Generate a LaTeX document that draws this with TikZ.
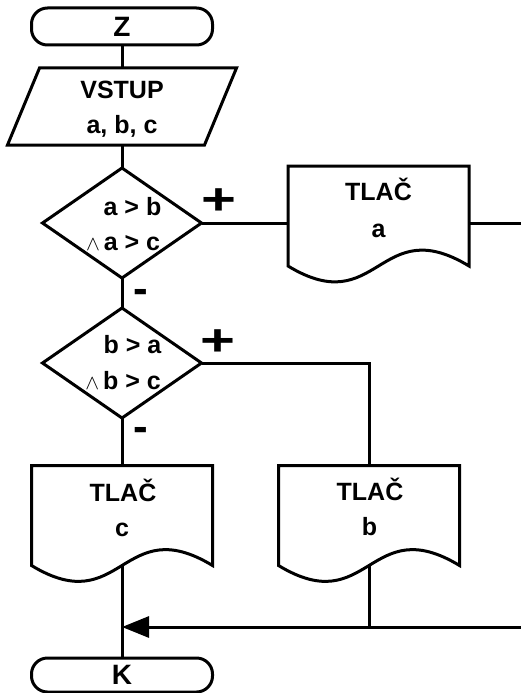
\documentclass[tikz,border=0pt]{standalone}
\usepackage{fontspec}
\usepackage{graphicx}
\setmainfont{Liberation Sans}
\usetikzlibrary{arrows.meta,shapes.geometric,calc}
\tikzset{
  ln/.style={line width=3pt},
  diam/.style={diamond,draw,ln,minimum width=159pt,minimum height=110pt,inner sep=0pt,outer sep=0pt},
  term/.style={rectangle,draw,ln,rounded corners=16pt,minimum width=181pt,inner sep=0pt,outer sep=0pt,font=\fontsize{28}{28}\selectfont\bfseries},
  docbox/.style={rectangle,minimum width=181pt,minimum height=100pt,inner sep=0pt,outer sep=0pt},
  inbox/.style={rectangle,minimum width=197pt,minimum height=77pt,inner sep=0pt,outer sep=0pt},
  txt/.style={font=\fontsize{25}{25}\selectfont\bfseries,inner sep=0pt,anchor=base},
  sgn/.style={font=\fontsize{44}{44}\selectfont\bfseries,inner sep=0pt,anchor=base},
  conn/.style={ln},
  arr/.style={ln,-{Triangle[length=27pt,width=21pt]}},
}
\newcommand\drawdoc[1]{\draw[ln] (#1.south west) -- (#1.north west) -- (#1.north east) -- (#1.south east) .. controls +(-90.5,-55) and +(90.5,55) .. (#1.south west) -- cycle;}
\newcommand\andsym{\llap{\fontsize{20}{20}\selectfont$\wedge$\hspace{4pt}}}
\begin{document}
\begin{tikzpicture}[x=1pt,y=-1pt]
\useasboundingbox (0,0) rectangle (521,693);
% start
\node[term,minimum height=37pt] (z) at (122,26.5) {Z};
% input
\node[inbox] (in) at (122,106.5) {};
\draw[ln] ($(in.north west)+(16,0)$) -- ($(in.north east)+(16,0)$) -- ($(in.south east)+(-16,0)$) -- ($(in.south west)+(-16,0)$) -- cycle;
\node[txt] (in1) at (122,98) {VSTUP};
\node[txt] (in2) at (122,133) {a, b, c};
% decision 1
\node[diam] (d1) at (122,223) {};
\node[txt] (d1a) at (132.5,215) {a > b};
\node[txt] (d1b) at (132,250) {\andsym a > c};
% print a
\node[docbox] (pa) at (378.5,216) {};
\drawdoc{pa}
\node[txt] (pa1) at (378.5,200) {TLAČ};
\node[txt] (pa2) at (378.5,237) {a};
% decision 2
\node[diam] (d2) at (122,363) {};
\node[txt] (d2a) at (132.5,353) {b > a};
\node[txt] (d2b) at (132,389) {\andsym b > c};
% print b
\node[docbox] (pb) at (369,515.5) {};
\drawdoc{pb}
\node[txt] (pb1) at (370,500) {TLAČ};
\node[txt] (pb2) at (369.5,535) {b};
% print c
\node[docbox] (pc) at (122,515.5) {};
\drawdoc{pc}
\node[txt] (pc1) at (123,501) {TLAČ};
\node[txt] (pc2) at (122,536) {c};
% end
\node[term,minimum height=34pt] (k) at (122,675) {K};
% signs
\node[sgn] (p1) at (219,214.5) {\scalebox{1.36}[1]{+}};
\node[sgn] (p2) at (217.5,355.5) {\scalebox{1.36}[1]{+}};
\node[sgn] (m1) at (141,303) {-};
\node[sgn] (m2) at (141,441) {-};
% free ends
\coordinate (rout) at (521,223);
\coordinate (rin) at (521,627);
% connectors
\draw[conn] (z.south) -- (in.north);
\draw[conn] (in.south) -- (d1.north);
\draw[conn] (d1.east) -- (d1.east -| pa.west);
\draw[conn] (pa.east |- rout) -- (rout);
\draw[conn] (d1.south) -- (d2.north);
\draw[conn] (d2.east) -| (pb.north);
\draw[conn] (d2.south) -- (pc.north);
\draw[conn] (pc.south) -- (k.north);
\draw[conn] (pb.south) -- (pb.south |- rin);
\draw[arr] (rin) -- (rin -| pc.south);
\end{tikzpicture}
\end{document}
